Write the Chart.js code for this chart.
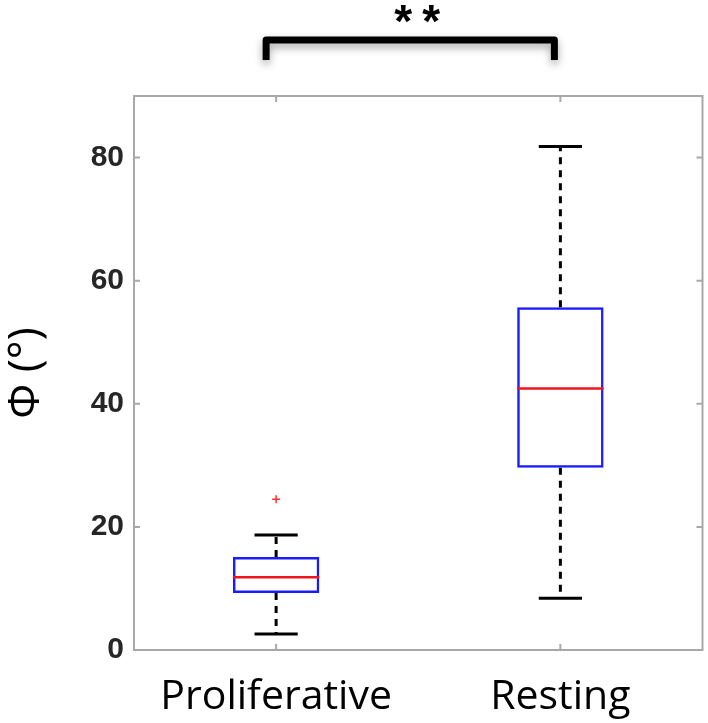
<!DOCTYPE html>
<html>
<head>
<meta charset="utf-8">
<script src="https://cdn.jsdelivr.net/npm/chart.js@4/dist/chart.umd.min.js"></script>
<style>
  html, body { margin: 0; padding: 0; background: #fff; }
  #chart { display: block; }
</style>
</head>
<body>
<canvas id="chart" width="708" height="723"></canvas>
<script>
// categories and box statistics
const categories = ['Proliferative', 'Resting'];
const whiskerLow = [2.6, 8.4];
const q1 = [9.25, 29.6];
const median = [11.8, 42.5];
const q3 = [15.1, 55.7];
const whiskerHigh = [18.7, 81.8];
const outliers = [24.5, null];
const yTicks = [0, 20, 40, 60, 80];
const significance = '**';

const frameColor = '#a8a8a8';

/**
 * whiskers, caps, medians, frame, inward ticks and the significance bracket
 */
const boxExtras = {
  id: 'boxExtras',
  afterDatasetsDraw(chart) {
    const { ctx, chartArea: area, scales: { x, y } } = chart;
    const bars = chart.getDatasetMeta(0).data;
    ctx.save();

    categories.forEach((cat, i) => {
      const cx = x.getPixelForValue(i);
      const half = bars[i].width / 2;
      const capHalf = half / 2;

      // dashed whiskers
      ctx.strokeStyle = '#000';
      ctx.lineWidth = 3;
      ctx.setLineDash([7, 6]);
      ctx.beginPath();
      ctx.moveTo(cx, y.getPixelForValue(q3[i]));
      ctx.lineTo(cx, y.getPixelForValue(whiskerHigh[i]));
      ctx.moveTo(cx, y.getPixelForValue(q1[i]));
      ctx.lineTo(cx, y.getPixelForValue(whiskerLow[i]));
      ctx.stroke();

      // caps
      ctx.setLineDash([]);
      ctx.beginPath();
      [whiskerHigh[i], whiskerLow[i]].forEach(v => {
        const py = y.getPixelForValue(v);
        ctx.moveTo(cx - capHalf, py);
        ctx.lineTo(cx + capHalf, py);
      });
      ctx.stroke();

      // median
      ctx.strokeStyle = '#f0141e';
      ctx.lineWidth = 2.5;
      ctx.beginPath();
      const my = y.getPixelForValue(median[i]);
      ctx.moveTo(cx - half, my);
      ctx.lineTo(cx + half, my);
      ctx.stroke();
    });

    // axes box
    ctx.strokeStyle = frameColor;
    ctx.lineWidth = 2;
    ctx.strokeRect(area.left, area.top, area.right - area.left, area.bottom - area.top);

    // inward ticks
    const tl = 6;
    ctx.beginPath();
    yTicks.forEach(v => {
      const py = y.getPixelForValue(v);
      ctx.moveTo(area.left, py);
      ctx.lineTo(area.left + tl, py);
      ctx.moveTo(area.right, py);
      ctx.lineTo(area.right - tl, py);
    });
    categories.forEach((c, i) => {
      const px = x.getPixelForValue(i);
      ctx.moveTo(px, area.bottom);
      ctx.lineTo(px, area.bottom - tl);
      ctx.moveTo(px, area.top);
      ctx.lineTo(px, area.top + tl);
    });
    ctx.stroke();

    // significance bracket
    const bx0 = x.getPixelForValue(0) - 10;
    const bx1 = x.getPixelForValue(1) - 6;
    const btop = 40;
    const bbot = 60;
    ctx.shadowColor = 'rgba(0,0,0,0.35)';
    ctx.shadowBlur = 8;
    ctx.shadowOffsetY = 4;
    ctx.strokeStyle = '#000';
    ctx.lineWidth = 7;
    ctx.lineJoin = 'round';
    ctx.beginPath();
    ctx.moveTo(bx0, bbot);
    ctx.lineTo(bx0, btop);
    ctx.lineTo(bx1, btop);
    ctx.lineTo(bx1, bbot);
    ctx.stroke();
    ctx.shadowColor = 'transparent';

    ctx.fillStyle = '#000';
    ctx.font = 'bold 46px "Liberation Sans", Arial, sans-serif';
    ctx.letterSpacing = '10px';
    ctx.textAlign = 'center';
    ctx.textBaseline = 'alphabetic';
    ctx.fillText(significance, (bx0 + bx1) / 2 + 12, 37);
    ctx.restore();
  }
};

const ctx = document.getElementById('chart').getContext('2d');

new Chart(ctx, {
  type: 'bar',
  data: {
    labels: categories,
    datasets: [
      {
        label: 'IQR',
        data: categories.map((c, i) => [q1[i], q3[i]]),
        backgroundColor: 'rgba(0,0,0,0)',
        borderColor: '#1a1aff',
        borderWidth: 2.5,
        borderSkipped: false,
        barPercentage: 0.304,
        categoryPercentage: 1
      },
      {
        type: 'line',
        label: 'Outliers',
        data: outliers,
        showLine: false,
        pointStyle: 'cross',
        pointRadius: 4,
        borderColor: '#ff3030',
        backgroundColor: '#ff3030',
        borderWidth: 1.5
      }
    ]
  },
  options: {
    responsive: false,
    animation: false,
    layout: { padding: { top: 96, right: 3, left: 0, bottom: 0 } },
    plugins: {
      legend: { display: false },
      tooltip: { enabled: false }
    },
    scales: {
      x: {
        grid: { display: false, drawTicks: false },
        border: { display: false },
        ticks: {
          color: '#000',
          padding: 23,
          font: { family: '"Open Sans", sans-serif', size: 41 }
        },
        afterFit(scale) { scale.height = 73; }
      },
      y: {
        min: 0,
        max: 90,
        grid: { display: false, drawTicks: false },
        border: { display: false },
        afterBuildTicks(scale) { scale.ticks = yTicks.map(v => ({ value: v })); },
        ticks: {
          color: '#262626',
          padding: 10,
          font: { family: '"Liberation Sans", Arial, sans-serif', size: 30, weight: 'bold' }
        },
        title: {
          display: true,
          text: 'Φ (°)',
          color: '#000',
          padding: 0,
          font: { family: '"Open Sans", sans-serif', size: 44 }
        },
        afterFit(scale) { scale.width = 134; }
      }
    }
  },
  plugins: [boxExtras]
});
</script>
</body>
</html>
